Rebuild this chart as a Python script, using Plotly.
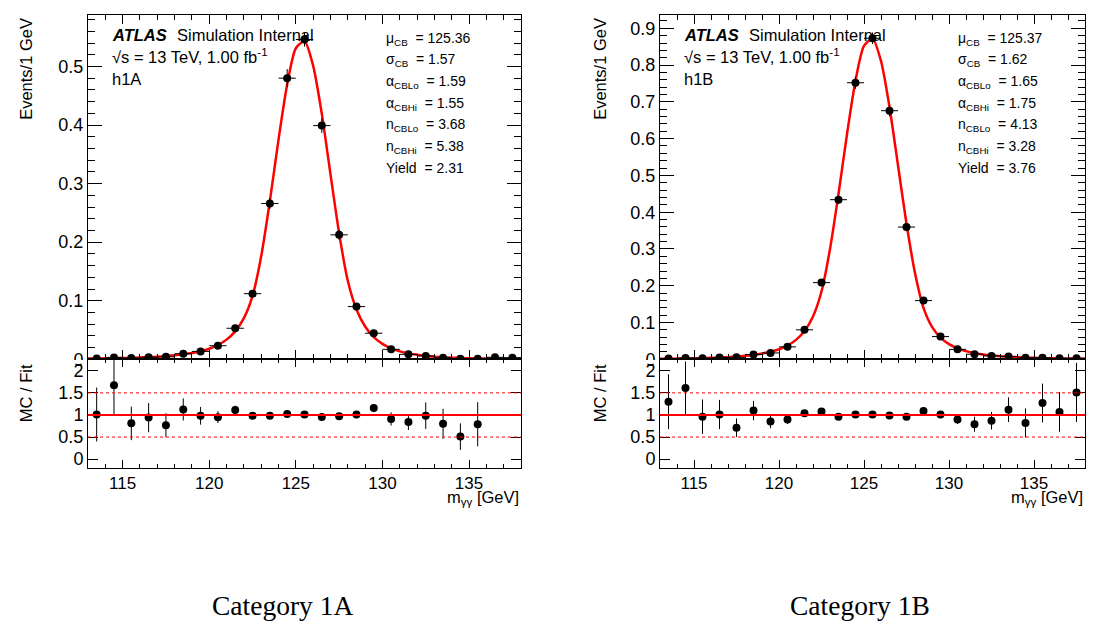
import plotly.graph_objects as go

W, H = 1113, 626
FONT = "Liberation Sans, Arial, Helvetica, sans-serif"
SERIF = "Liberation Serif, Times New Roman, serif"

# ---------------- data ----------------
bin_centers = [113.5, 114.5, 115.5, 116.5, 117.5, 118.5, 119.5, 120.5, 121.5, 122.5,
               123.5, 124.5, 125.5, 126.5, 127.5, 128.5, 129.5, 130.5, 131.5, 132.5,
               133.5, 134.5, 135.5, 136.5, 137.5]

fit_x = [113.0, 113.5, 114.0, 114.5, 115.0, 115.5, 116.0, 116.5, 117.0, 117.5,
         118.0, 118.5, 119.0, 119.5, 120.0, 120.5, 121.0, 121.5, 122.0, 122.5,
         123.0, 123.5, 124.0, 124.5, 125.0, 125.5, 126.0, 126.5, 127.0, 127.5,
         128.0, 128.5, 129.0, 129.5, 130.0, 130.5, 131.0, 131.5, 132.0, 132.5,
         133.0, 133.5, 134.0, 134.5, 135.0, 135.5, 136.0, 136.5, 137.0, 137.5, 138.0]

# Category 1A
fit_1A = [0.0012, 0.0014, 0.0016, 0.0019, 0.0022, 0.0026, 0.0031, 0.0037, 0.0045, 0.0055,
          0.0068, 0.0085, 0.0107, 0.0138, 0.0181, 0.0244, 0.0336, 0.0477, 0.0703, 0.1084,
          0.176, 0.270, 0.375, 0.469, 0.531, 0.543, 0.501, 0.419, 0.316, 0.215,
          0.134, 0.0851, 0.0560, 0.0379, 0.0264, 0.0187, 0.0136, 0.0101, 0.0076, 0.0058,
          0.0045, 0.0035, 0.0028, 0.0022, 0.0018, 0.0014, 0.0012, 0.0010, 0.0008, 0.0007, 0.0006]
mc_1A = [0.0015, 0.0032, 0.0021, 0.0035, 0.0042, 0.0095, 0.0135, 0.0232, 0.053, 0.112,
         0.266, 0.480, 0.546, 0.399, 0.2125, 0.090, 0.0445, 0.017, 0.0085, 0.0057,
         0.0028, 0.0011, 0.0011, 0.0034, 0.0028]
mc_err_1A = [0.0008, 0.0013, 0.0010, 0.0012, 0.0015, 0.0021, 0.0028, 0.0033, 0.0048, 0.0049,
             0.0095, 0.0155, 0.012, 0.0126, 0.0086, 0.0051, 0.0034, 0.0028, 0.0018, 0.0017,
             0.0012, 0.0007, 0.0007, 0.0008, 0.0008]
ratio_1A = [1.01, 1.67, 0.81, 0.94, 0.77, 1.125, 0.98, 0.95, 1.11, 0.985,
            0.98, 1.02, 1.01, 0.955, 0.97, 1.01, 1.155, 0.91, 0.84, 0.985,
            0.80, 0.51, 0.79, None, None]
ratio_err_1A = [0.61, 0.67, 0.38, 0.33, 0.27, 0.25, 0.20, 0.135, 0.10, 0.045,
                0.035, 0.033, 0.025, 0.03, 0.04, 0.06, 0.09, 0.15, 0.18, 0.30,
                0.34, 0.30, 0.50, None, None]
params_1A = [("μ", "CB", "125.36"), ("σ", "CB", "1.57"), ("α", "CBLo", "1.59"),
             ("α", "CBHi", "1.55"), ("n", "CBLo", "3.68"), ("n", "CBHi", "5.38"),
             ("Yield", "", "2.31")]

# Category 1B
fit_1B = [0.0014, 0.0016, 0.0019, 0.0023, 0.0027, 0.0032, 0.0039, 0.0048, 0.0058, 0.0074,
          0.0094, 0.0119, 0.0155, 0.0204, 0.0273, 0.0375, 0.0529, 0.0771, 0.1166, 0.1844,
          0.300, 0.4496, 0.612, 0.7575, 0.852, 0.872, 0.811, 0.686, 0.5276, 0.3686,
          0.2345, 0.1397, 0.0882, 0.0591, 0.0413, 0.0299, 0.0223, 0.0170, 0.0133, 0.0105,
          0.0085, 0.0069, 0.0057, 0.0048, 0.0040, 0.0034, 0.0029, 0.0025, 0.0022, 0.0019, 0.0017]
mc_1B = [0.0021, 0.0037, 0.0031, 0.0048, 0.0053, 0.0131, 0.0173, 0.0338, 0.0802, 0.2085,
         0.434, 0.752, 0.873, 0.676, 0.3596, 0.1596, 0.0618, 0.027, 0.0138, 0.0091,
         0.0077, 0.0039, 0.0043, 0.0027, 0.0029]
mc_err_1B = [0.0010, 0.0014, 0.0012, 0.0016, 0.0016, 0.0026, 0.0031, 0.0038, 0.0046, 0.0074,
             0.0112, 0.0167, 0.0157, 0.0151, 0.011, 0.007, 0.0041, 0.003, 0.0029, 0.0021,
             0.0019, 0.0016, 0.0015, 0.0011, 0.0013]
ratio_1B = [1.30, 1.61, 0.96, 1.01, 0.71, 1.10, 0.85, 0.90, 1.04, 1.08,
            0.96, 1.01, 1.01, 0.99, 0.96, 1.09, 1.01, 0.90, 0.79, 0.87,
            1.12, 0.82, 1.27, 1.07, 1.51]
ratio_err_1B = [0.62, 0.60, 0.39, 0.33, 0.21, 0.22, 0.15, 0.10, 0.06, 0.04,
                0.025, 0.022, 0.018, 0.022, 0.03, 0.05, 0.07, 0.10, 0.17, 0.20,
                0.28, 0.33, 0.44, 0.45, 0.67]
params_1B = [("μ", "CB", "125.37"), ("σ", "CB", "1.62"), ("α", "CBLo", "1.65"),
             ("α", "CBHi", "1.75"), ("n", "CBLo", "4.13"), ("n", "CBHi", "3.28"),
             ("Yield", "", "3.76")]

ratio_ref_solid = [1.0]
ratio_ref_dashed = [0.5, 1.5]
ratio_ticks = [0, 0.5, 1, 1.5, 2]
x_range = [113, 138]
main_yrange_1A = [0, 0.588]
main_yrange_1B = [0, 0.9365]
ratio_yrange = [-0.19, 2.26]

# ---------------- layout helpers (pixel -> paper) ----------------
def px(x):
    return x / W

def py(y):
    return 1 - y / H

MAIN_TOP, MAIN_BOT, RATIO_BOT = 7, 357, 467
panels = [
    dict(name="1A", x0=80, x1=513, xa="x", ya="y", xr="x2", yr="y2",
         fit=fit_1A, mc=mc_1A, mc_err=mc_err_1A, ratio=ratio_1A, ratio_err=ratio_err_1A,
         params=params_1A, yrange=main_yrange_1A, label="h1A", caption="Category 1A",
         cap_x=274, title_x=18),
    dict(name="1B", x0=652, x1=1077, xa="x3", ya="y3", xr="x4", yr="y4",
         fit=fit_1B, mc=mc_1B, mc_err=mc_err_1B, ratio=ratio_1B, ratio_err=ratio_err_1B,
         params=params_1B, yrange=main_yrange_1B, label="h1B", caption="Category 1B",
         cap_x=852, title_x=592),
]

fig = go.Figure()
annotations = []
shapes = []
layout_axes = {}

def axname(ref):
    return ref.replace("x", "xaxis").replace("y", "yaxis")

common = dict(showline=True, linecolor="black", linewidth=1, mirror="allticks",
              ticks="inside", tickcolor="black", tickwidth=1, showgrid=False,
              zeroline=False, fixedrange=True)

for p in panels:
    # fit curve
    fig.add_trace(go.Scatter(x=fit_x, y=p["fit"], mode="lines",
                             line=dict(color="#ff0000", width=2.5, shape="spline", smoothing=0.7),
                             xaxis=p["xa"], yaxis=p["ya"], hoverinfo="skip", showlegend=False))
    # MC points
    fig.add_trace(go.Scatter(x=bin_centers, y=p["mc"], mode="markers",
                             marker=dict(color="black", size=8),
                             error_x=dict(type="constant", value=0.5, color="black", thickness=1, width=0),
                             error_y=dict(type="data", array=p["mc_err"], color="black", thickness=1, width=0),
                             xaxis=p["xa"], yaxis=p["ya"], showlegend=False))
    # ratio points
    fig.add_trace(go.Scatter(x=bin_centers, y=p["ratio"], mode="markers",
                             marker=dict(color="black", size=8),
                             error_y=dict(type="data", array=p["ratio_err"], color="black", thickness=1, width=0),
                             xaxis=p["xr"], yaxis=p["yr"], showlegend=False, cliponaxis=True))

    # reference lines in ratio panel
    for v in ratio_ref_solid:
        shapes.append(dict(type="line", xref=p["xr"] + " domain", yref=p["yr"], x0=0, x1=1, y0=v, y1=v,
                           line=dict(color="#ff0000", width=2), layer="above"))
    for v in ratio_ref_dashed:
        shapes.append(dict(type="line", xref=p["xr"] + " domain", yref=p["yr"], x0=0, x1=1, y0=v, y1=v,
                           line=dict(color="#ff0000", width=1, dash="3px,3px"), layer="above"))

    xdom = [px(p["x0"]), px(p["x1"])]
    layout_axes[axname(p["xa"])] = dict(common, domain=xdom, range=x_range, anchor=p["ya"],
                                        dtick=5, tick0=0, ticklen=9, showticklabels=False,
                                        minor=dict(dtick=1, ticklen=5, ticks="inside", tickcolor="black", showgrid=False))
    layout_axes[axname(p["ya"])] = dict(common, domain=[py(MAIN_BOT), py(MAIN_TOP)], range=p["yrange"],
                                        anchor=p["xa"], dtick=0.1, tick0=0, ticklen=14,
                                        tickfont=dict(family=FONT, size=18, color="black"),
                                        minor=dict(dtick=0.02, ticklen=7, ticks="inside", tickcolor="black", showgrid=False))
    layout_axes[axname(p["xr"])] = dict(common, domain=xdom, range=x_range, anchor=p["yr"],
                                        dtick=5, tick0=0, ticklen=8,
                                        tickfont=dict(family=FONT, size=17, color="black"),
                                        minor=dict(dtick=1, ticklen=4, ticks="inside", tickcolor="black", showgrid=False))
    layout_axes[axname(p["yr"])] = dict(common, domain=[py(RATIO_BOT), py(MAIN_BOT)], range=ratio_yrange,
                                        anchor=p["xr"], tickvals=ratio_ticks, ticklen=10,
                                        tickfont=dict(family=FONT, size=18, color="black"))

    x0 = p["x0"]
    # ATLAS label
    annotations.append(dict(text="<b><i>ATLAS</i></b>", x=px(x0 + 22), y=py(27), xref="paper", yref="paper",
                            xanchor="left", yanchor="middle", showarrow=False,
                            font=dict(family=FONT, size=16.5, color="black")))
    annotations.append(dict(text="Simulation Internal", x=px(x0 + 87), y=py(27), xref="paper", yref="paper",
                            xanchor="left", yanchor="middle", showarrow=False,
                            font=dict(family=FONT, size=16.5, color="black")))
    annotations.append(dict(text="√s = 13 TeV, 1.00 fb<sup>-1</sup>", x=px(x0 + 22), y=py(49), xref="paper", yref="paper",
                            xanchor="left", yanchor="middle", showarrow=False,
                            font=dict(family=FONT, size=16.5, color="black")))
    annotations.append(dict(text=p["label"], x=px(x0 + 22), y=py(72), xref="paper", yref="paper",
                            xanchor="left", yanchor="middle", showarrow=False,
                            font=dict(family=FONT, size=16.5, color="black")))
    # fit parameters
    for i, (sym, sub, val) in enumerate(p["params"]):
        if sub:
            txt = f"{sym}<sub>{sub}</sub>\u00a0 = {val}"
        else:
            txt = f"{sym}\u00a0 = {val}"
        annotations.append(dict(text=txt, x=px(x0 + 296), y=py(20 + 22 * i), xref="paper", yref="paper",
                                xanchor="left", yanchor="top", showarrow=False,
                                font=dict(family=FONT, size=14, color="black")))
    # axis titles
    tx = p["title_x"]
    annotations.append(dict(text="Events/1 GeV", x=px(tx), y=py(MAIN_TOP + 1), xref="paper", yref="paper",
                            xanchor="center", yanchor="top", textangle=-90, showarrow=False,
                            font=dict(family=FONT, size=16.5, color="black")))
    annotations.append(dict(text="MC / Fit", x=px(tx), y=py(MAIN_BOT + 3), xref="paper", yref="paper",
                            xanchor="center", yanchor="top", textangle=-90, showarrow=False,
                            font=dict(family=FONT, size=16.5, color="black")))
    annotations.append(dict(text="m<sub>γγ</sub> [GeV]", x=px(p["x1"]), y=py(498), xref="paper", yref="paper",
                            xanchor="right", yanchor="middle", showarrow=False,
                            font=dict(family=FONT, size=16.5, color="black")))
    # caption
    annotations.append(dict(text=p["caption"], x=px(p["cap_x"]), y=py(607), xref="paper", yref="paper",
                            xanchor="center", yanchor="middle", showarrow=False,
                            font=dict(family=SERIF, size=27.5, color="black")))
    # hide lower half of main-panel "0" label (covered by ratio pad in original)
    shapes.append(dict(type="rect", xref="paper", yref="paper", x0=px(x0 - 40), x1=px(x0 - 2),
                       y0=py(361.5), y1=py(357.6), fillcolor="white", line=dict(width=0), layer="above"))

fig.update_layout(
    width=W, height=H,
    margin=dict(l=0, r=0, t=0, b=0),
    paper_bgcolor="white", plot_bgcolor="white",
    showlegend=False,
    font=dict(family=FONT, color="black"),
    annotations=annotations,
    shapes=shapes,
    **layout_axes,
)

fig.write_html("out.html")
